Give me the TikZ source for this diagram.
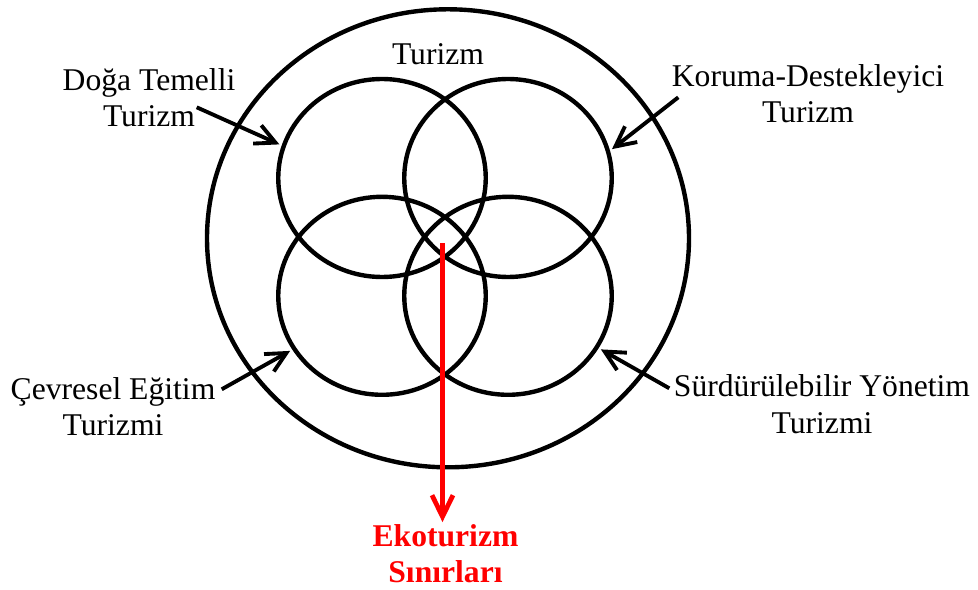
\documentclass[tikz,border=0pt]{standalone}
\usepackage{fontspec}
\setmainfont{Liberation Serif}
\usetikzlibrary{positioning,arrows.meta,shapes.geometric}

\begin{document}
\begin{tikzpicture}[
  x=0.2mm,y=-0.2mm,
  ring/.style={draw,ellipse,line width=2.5pt,inner sep=0pt,minimum width=41.5mm,minimum height=39.6mm},
  lbl/.style={align=center,inner sep=1pt,font=\fontsize{18}{20.7}\selectfont},
  pointer/.style={-{Straight Barb[length=4mm,width=4mm]},line width=2.2pt,shorten >=0.5mm},
  redpointer/.style={-{Straight Barb[length=4.3mm,width=4.2mm]},line width=2.7pt,red}
]
\useasboundingbox (0,0) rectangle (978,590);
% --- circles ---
\node[ring,minimum width=96.4mm,minimum height=91.6mm] (outer) at (448,238.3) {};
\foreach \n/\x/\y in {tl/382/178,tr/508/178,bl/382/295.8,br/508/295.8}{\node[ring] (\n) at (\x,\y) {};}
% --- labels ---
\node[lbl,anchor=base] (turizm) at (438,65) {Turizm};
\node[lbl] (doga) at (149,97.4) {Doğa Temelli\\Turizm};
\node[lbl] (koruma) at (808,93.4) {Koruma-Destekleyici\\Turizm};
\node[lbl] (cevre) at (113,406.4) {Çevresel Eğitim\\Turizmi};
\node[lbl] (surdur) at (822,404.3) {Sürdürülebilir Yönetim\\Turizmi};
\node[lbl,text=red,font=\fontsize{18}{20.7}\selectfont\bfseries] (eko) at (445.5,553.5) {Ekoturizm\\Sınırları};
% arrow feet next to the labels
\coordinate (dogaP) at (196.7,107.3);
\coordinate (korumaP) at (678.3,97.3);
\coordinate (cevreP) at (221.7,389.3);
\coordinate (surdurP) at (669.3,388.3);
\foreach \a/\b in {dogaP/tl.162,korumaP/tr.15.5,cevreP/bl.211,surdurP/br.330.7}{\draw[pointer] (\a) -- (\b);}
% --- ecotourism boundary ---
\coordinate (core) at (442.5,243.5);
\draw[redpointer] (core) -- (core |- eko.north);
\end{tikzpicture}
\end{document}
